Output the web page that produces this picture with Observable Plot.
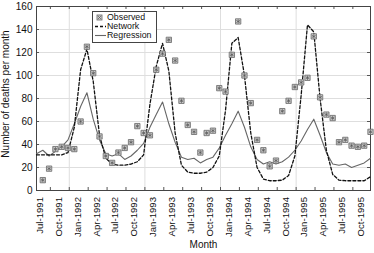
<!DOCTYPE html>
<html><head><meta charset="utf-8">
<script src="https://cdn.jsdelivr.net/npm/d3@7"></script>
<script src="https://cdn.jsdelivr.net/npm/@observablehq/plot@0.6"></script>
<style>
body{margin:0;background:#fff;}
#wrap{position:relative;width:374px;height:253px;font-family:"Liberation Sans",Arial,sans-serif;}
#legend{position:absolute;left:92px;top:11px;width:63px;height:30px;border:1px solid #444;background:#fff;font-size:8.8px;color:#111;}
#legend .row{position:absolute;left:0;height:9px;line-height:9px;width:62px;}
#legend svg{position:absolute;left:0;top:0;}
#legend span{position:absolute;left:14px;top:0;white-space:nowrap;}
#ytitle{position:absolute;left:6px;top:94px;transform:translate(-50%,-50%) rotate(-90deg);font-size:10px;line-height:10px;white-space:nowrap;color:#111;}
</style></head><body><div id="wrap"></div>
<script>
// Months: index 0 = Jun-1991 ... index 53 = Nov-1995
const months = d3.utcMonth.range(new Date(Date.UTC(1991, 5, 1)), new Date(Date.UTC(1995, 11, 1))).map(d3.utcFormat("%b-%Y"));
// Tick labels
const xLabels = ["Jul-1991","Oct-1991","Jan-1992","Apr-1992","Jul-1992","Oct-1992","Jan-1993","Apr-1993","Jul-1993","Oct-1993","Jan-1994","Apr-1994","Jul-1994","Oct-1994","Jan-1995","Apr-1995","Jul-1995","Oct-1995"];
const yTicks = [0, 20, 40, 60, 80, 100, 120, 140, 160];
const yTitle = "Number of deaths per month";
const xTitle = "Month";
const seriesNames = ["Observed", "Network", "Regression"];
// Observed: Jul-1991 .. Nov-1995
const observed = [9,19,36,38,37,36, 60,125,102,47,30,24, 33,37,42,56,50,48, 105,119,131,113,78,57, 51,33,50,52,89,86, 118,147,100,76,44,35, 21,26,69,78,90,94, 98,134,81,66,63,42, 44,39,38,39,51];
// Network: Jun-1991 .. Nov-1995
const network = [31,31,31,31,31,33,55, 105,123,95,48,28,23, 22,22,23,25,31,75, 108,128,104,50,22,16, 15,15,16,20,30,70, 128,133,100,50,20,10, 8.5,8.5,9,13,30,83, 144,138,80,35,14,9, 8.5,8.5,8.5,8.5,12];
// Regression: Jun-1991 .. Nov-1995
const regression = [32,35,30,34,38,44,58, 73,85,62,44,32,30, 32,27,30,35,41,55, 66,77,58,42,29,27, 28,24,27,29,37,48, 58,69,55,38,27,23, 25,23,25,29,35,43, 53,62,48,33,23,22, 23,20,22,24,28];

const obsRows = observed.map((v, k) => ({i: months.indexOf("Jul-1991") + k, v}));
const netRows = network.map((v, i) => ({i, v}));
const regRows = regression.map((v, i) => ({i, v}));
const labelRows = xLabels.map(label => ({i: months.indexOf(label), label}));
const tickPos = labelRows.map(d => d.i + 1.2).filter(p => p < months.length - 1);
const gridPos = labelRows.filter(d => d.label.startsWith("Jan")).map(d => d.i - 1.8);

const W = 374, H = 253, mL = 36, mR = 4, mT = 6, mB = 63;
const pW = W - mL - mR, pH = H - mT - mB;

const chart = Plot.plot({
  width: W, height: H, marginLeft: mL, marginRight: mR, marginTop: mT, marginBottom: mB,
  x: {domain: [0, months.length - 1], axis: null},
  y: {domain: [0, 160], axis: null},
  style: {fontFamily: "'Liberation Sans', Arial, sans-serif", fontSize: "10px", background: "white", color: "#111"},
  marks: [
    Plot.gridY(yTicks, {stroke: "#dedede", strokeOpacity: 1}),
    Plot.gridX(gridPos, {stroke: "#dedede", strokeOpacity: 1}),
    Plot.ruleY(yTicks, {stroke: "#555", insetRight: pW - 3}),
    Plot.ruleY(yTicks, {stroke: "#555", insetLeft: pW - 3}),
    Plot.ruleX(tickPos, {stroke: "#555", insetTop: pH - 3}),
    Plot.ruleX(tickPos, {stroke: "#555", insetBottom: pH - 3}),
    Plot.frame({stroke: "#444"}),
    Plot.axisY(yTicks, {anchor: "left", tickSize: 0, tickPadding: 4, fontSize: 10, label: null}),
    Plot.text(labelRows, {x: "i", text: "label", frameAnchor: "bottom", rotate: -90, textAnchor: "end", dy: 6.5, fontSize: 9.6}),
    Plot.lineY(regRows, {x: "i", y: "v", stroke: "#666", strokeWidth: 1.1}),
    Plot.lineY(netRows, {x: "i", y: "v", stroke: "#111", strokeWidth: 1.3, strokeDasharray: "3,2"}),
    Plot.dot(obsRows, {x: "i", y: "v", symbol: "square", r: 3, fill: "#cfcfcf", stroke: "#666", strokeWidth: 0.8}),
    Plot.dot(obsRows, {x: "i", y: "v", symbol: "asterisk", r: 2, stroke: "#555", strokeWidth: 0.7}),
    Plot.text([xTitle], {frameAnchor: "bottom", dy: 57, fontSize: 10})
  ]
});
const wrap = document.getElementById("wrap");
wrap.appendChild(chart);

const yt = document.createElement("div");
yt.id = "ytitle";
yt.textContent = yTitle;
wrap.appendChild(yt);

const legend = document.createElement("div");
legend.id = "legend";
legend.innerHTML = `
<div class="row" style="top:1px"><svg width="13" height="9"><rect x="4" y="2" width="5" height="5" fill="#cfcfcf" stroke="#666" stroke-width="0.8"/><path d="M5,3L8,6M8,3L5,6" stroke="#555" stroke-width="0.7"/></svg><span>${seriesNames[0]}</span></div>
<div class="row" style="top:9.5px"><svg width="13" height="9"><line x1="2" x2="13" y1="4.5" y2="4.5" stroke="#111" stroke-width="1.3" stroke-dasharray="3,2"/></svg><span>${seriesNames[1]}</span></div>
<div class="row" style="top:18.5px"><svg width="13" height="9"><line x1="2" x2="13" y1="4.5" y2="4.5" stroke="#666" stroke-width="1.1"/></svg><span>${seriesNames[2]}</span></div>`;
wrap.appendChild(legend);
</script></body></html>
